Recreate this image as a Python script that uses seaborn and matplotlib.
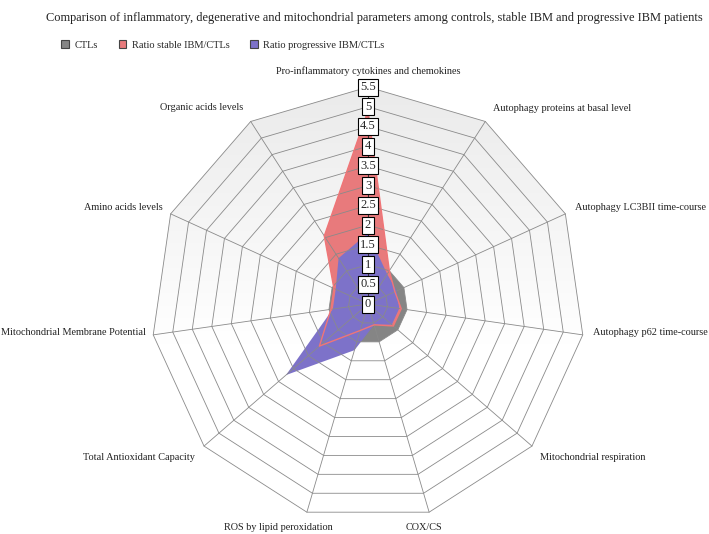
import numpy as np
import pandas as pd
import matplotlib
matplotlib.use("Agg")
import matplotlib.pyplot as plt
import seaborn as sns
from matplotlib.patches import Polygon, Patch

# data
categories = [
    "Pro-inflammatory cytokines and chemokines",
    "Autophagy proteins at basal level",
    "Autophagy LC3BII time-course",
    "Autophagy p62 time-course",
    "Mitochondrial respiration",
    "COX/CS",
    "ROS by lipid peroxidation",
    "Total Antioxidant Capacity",
    "Mitochondrial Membrane Potential",
    "Amino acids levels",
    "Organic acids levels",
]
ctls = [1, 1, 1, 1, 1, 1, 1, 1, 1, 1, 1]
stable_ratio = [4.9, 1.0, 0.75, 0.85, 0.85, 0.55, 0.7, 1.63, 0.95, 0.95, 2.05]
progressive_ratio = [1.8, 0.9, 0.8, 0.8, 0.8, 0.55, 1.22, 2.75, 0.9, 0.9, 1.38]
series_names = ["CTLs", "Ratio stable IBM/CTLs", "Ratio progressive IBM/CTLs"]
ring_values = [0, 0.5, 1, 1.5, 2, 2.5, 3, 3.5, 4, 4.5, 5, 5.5]
ring_labels = ["0", "0.5", "1", "1.5", "2", "2.5", "3", "3.5", "4", "4.5", "5", "5.5"]

colors = {"CTLs": "#858585",
          "Ratio stable IBM/CTLs": "#E87A7C",
          "Ratio progressive IBM/CTLs": "#7D72C9"}

# label offsets in pixels from the outer vertex of each spoke (ha, dx, dy)
label_place = [("center", 0, 16), ("left", 8, 13), ("left", 10, 6), ("left", 10, 2),
               ("left", 8, -11), ("left", -24, -15), ("right", 26, -15), ("right", -9, -11),
               ("right", -7, 2), ("right", -8, 6), ("right", -7, 14)]


def to_xy(values):
    n = len(values)
    ang = np.pi / 2 - 2 * np.pi * np.arange(n) / n
    v = np.asarray(values, dtype=float)
    return v * np.cos(ang), v * np.sin(ang)


sns.set_theme(style="white")
plt.rcParams["font.family"] = ["Liberation Serif", "DejaVu Serif"]

fig = plt.figure(figsize=(7.09, 5.34), dpi=100)
ax = fig.add_axes([0, 0, 1, 1])
scale = 39.45
ax.set_xlim(-368 / scale, (709 - 368) / scale)
ax.set_ylim(-230 / scale, 304 / scale)
ax.axis("off")

n = len(categories)
rmax = ring_values[-1]

# shaded background inside the outer ring
ox, oy = to_xy([rmax] * n)
outer = Polygon(np.column_stack([ox, oy]), closed=True, fc="none", ec="none")
ax.add_patch(outer)
ramp = np.interp(np.linspace(-rmax, rmax, 256), [-1.0, rmax], [1.0, 0.92])
img = np.repeat(ramp[:, None, None], 3, axis=2)
im = ax.imshow(img, extent=(-rmax, rmax, -rmax, rmax), origin="lower",
               aspect="auto", zorder=0)
im.set_clip_path(outer)

# series fills
for name, vals in zip(series_names, [ctls, stable_ratio, progressive_ratio]):
    x, y = to_xy(vals)
    ax.fill(x, y, color=colors[name], lw=0, zorder=1)

# polygon grid and spokes
for r in ring_values[1:]:
    gx, gy = to_xy([r] * n)
    ax.plot(np.append(gx, gx[0]), np.append(gy, gy[0]), color="#8a8a8a", lw=0.6, zorder=2)
for sx, sy in zip(ox, oy):
    ax.plot([0, sx], [0, sy], color="#8a8a8a", lw=0.6, zorder=2)
ax.plot([0, 0], [0, rmax], color="#333333", lw=0.8, zorder=2)

# stable outline drawn on top
sx, sy = to_xy(stable_ratio)
outline = pd.DataFrame({"x": np.append(sx, sx[0]), "y": np.append(sy, sy[0])})
sns.lineplot(data=outline, x="x", y="y", sort=False, estimator=None, ax=ax,
             color="#F07577", lw=1.0, zorder=3)
ax.set_xlabel("")
ax.set_ylabel("")

# radial tick labels in boxes
for r, lab in zip(ring_values, ring_labels):
    ax.text(0, r, lab, ha="center", va="center", fontsize=9, zorder=5,
            bbox=dict(boxstyle="square,pad=0.2", fc="white", ec="black", lw=0.8))

# category labels
for cat, px, py, (ha, dx, dy) in zip(categories, ox, oy, label_place):
    ax.annotate(cat, (px, py), xytext=(dx, dy), textcoords="offset pixels",
                ha=ha, va="center", fontsize=7.4, color="#222222")

fig.text(703 / 709, 1 - 18 / 534,
         "Comparison of inflammatory, degenerative and mitochondrial parameters among "
         "controls, stable IBM and progressive IBM patients",
         ha="right", va="center", fontsize=8.9, color="#222222")

handles = [Patch(fc=colors[s], ec="#444444", lw=0.8) for s in series_names]
fig.legend(handles, series_names, loc="center left", bbox_to_anchor=(52 / 709, 1 - 45 / 534),
           ncol=3, frameon=False, fontsize=7.5, handlelength=0.75, handleheight=0.75,
           handletextpad=0.5, columnspacing=2.0)

fig.savefig("out.png", dpi=100)
